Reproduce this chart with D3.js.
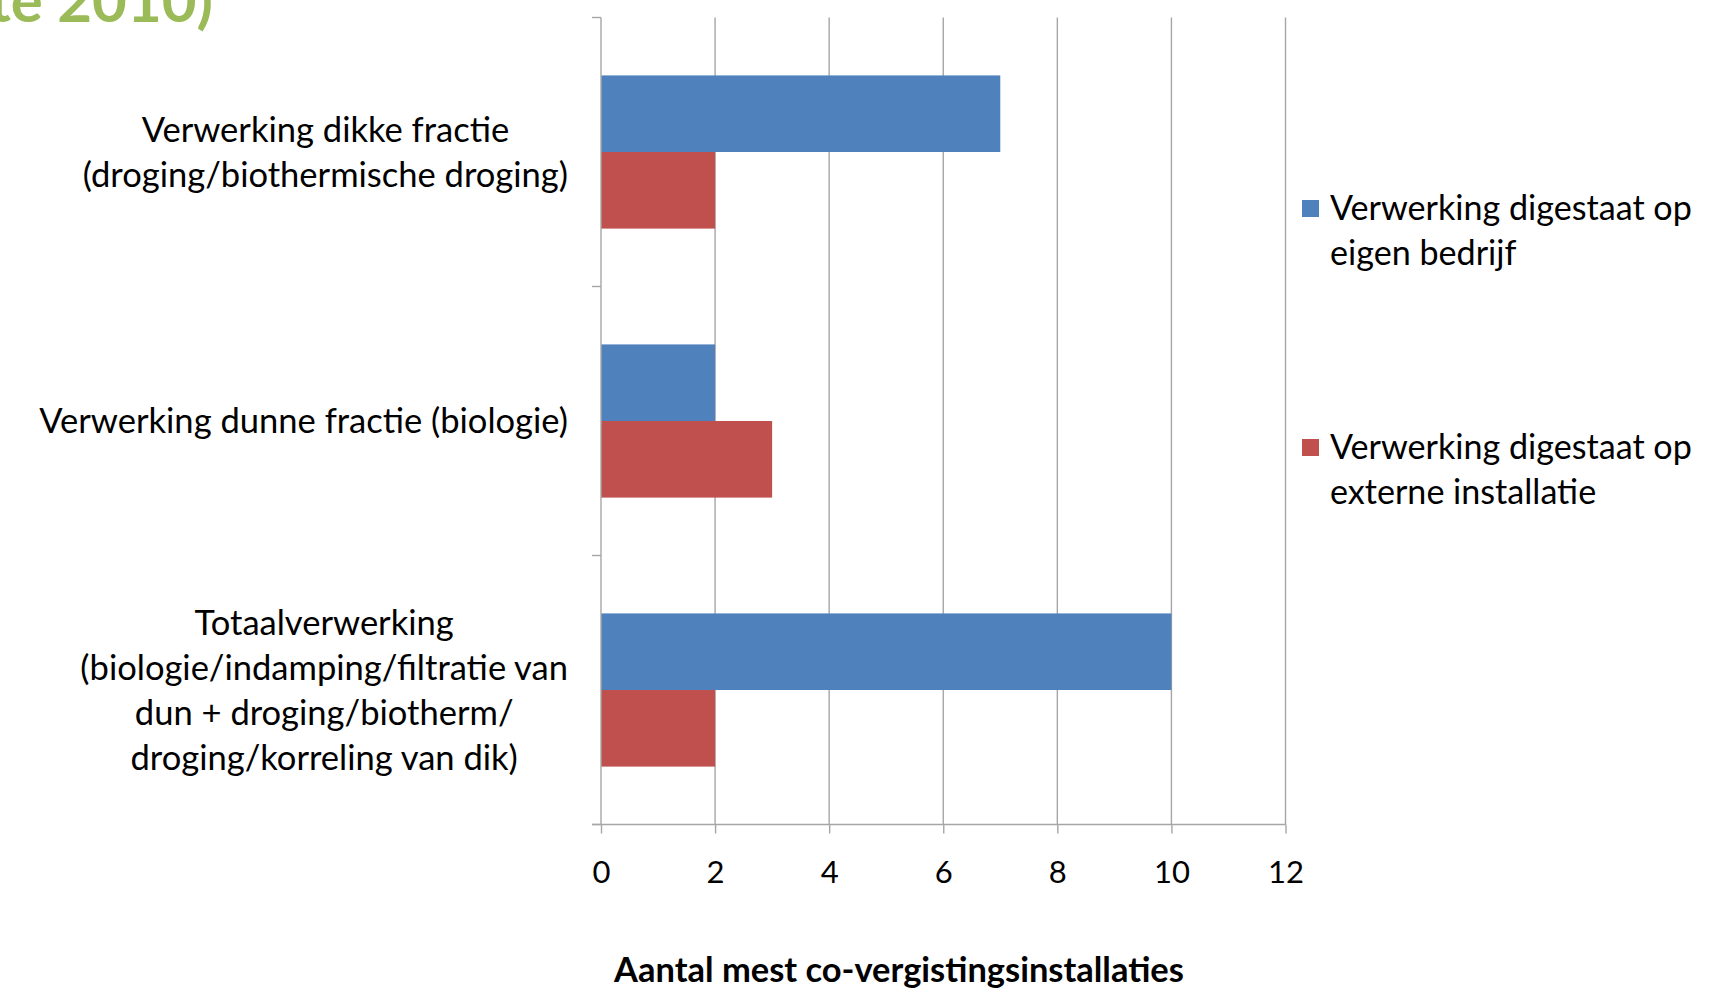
<!DOCTYPE html>
<html><head><meta charset="utf-8">
<script src="https://cdn.jsdelivr.net/npm/d3@7"></script>
<style>html,body{margin:0;padding:0;background:#fff;overflow:hidden}</style>
</head><body>
<svg id="c" width="1717" height="992"></svg>
<script>
const categories = [
  ["Verwerking dikke fractie", "(droging/biothermische droging)"],
  ["Verwerking dunne fractie (biologie)"],
  ["Totaalverwerking", "(biologie/indamping/filtratie van", "dun + droging/biotherm/", "droging/korreling van dik)"]
];
const categoryKeys = categories.map(c => c.join(" "));
const seriesNames = [
  ["Verwerking digestaat op", "eigen bedrijf"],
  ["Verwerking digestaat op", "externe installatie"]
];
const seriesKeys = ["eigen", "extern"];
const eigenValues = [7, 2, 10];
const externValues = [2, 3, 2];
const xTicks = [0, 2, 4, 6, 8, 10, 12];
const xTitle = "Aantal mest co-vergistingsinstallaties";
const headerFragment = "te 2010)";

const colors = {eigen: "#4F81BD", extern: "#C0504D"};
const FONT = "Lato, 'Open Sans', sans-serif";
const svg = d3.select("#c");
const DY = 3.5;

function fitSize(text, target, weight) {
  const t = svg.append("text").attr("font-family", FONT).attr("font-size", 40)
    .attr("font-weight", weight || "normal").text(text);
  const w = t.node().getComputedTextLength();
  t.remove();
  return 40 * target / w;
}
const labelSize = fitSize("Verwerking dunne fractie (biologie)", 529);
const legendSize = fitSize("Verwerking digestaat op", 362);
const titleSize = fitSize(xTitle, 570, "bold");
const tickSize = fitSize("10", 36);

const x = d3.scaleLinear().domain([0, 12]).range([601, 1285.5]);
const y = d3.scaleBand().domain(categoryKeys).range([17.5, 824.5]).padding(0);
const ys = d3.scaleBand().domain(seriesKeys).range([0, y.bandwidth()]).paddingInner(0).paddingOuter(0.756);

const gridColor = "#A6A6A6";

// gridlines
svg.append("g").selectAll("line").data(xTicks.filter(d => d > 0)).join("line")
  .attr("x1", d => x(d)).attr("x2", d => x(d))
  .attr("y1", 17.5).attr("y2", 824.5)
  .attr("stroke", gridColor).attr("stroke-width", 1.4);

// bars
const data = [];
categoryKeys.forEach((k, i) => {
  data.push({cat: k, s: "eigen", v: eigenValues[i]});
  data.push({cat: k, s: "extern", v: externValues[i]});
});
svg.append("g").selectAll("rect").data(data).join("rect")
  .attr("x", x(0)).attr("y", d => y(d.cat) + ys(d.s))
  .attr("width", d => x(d.v) - x(0)).attr("height", ys.bandwidth())
  .attr("fill", d => colors[d.s]);

// x axis
const xAxis = svg.append("g").attr("transform", "translate(0,824.5)")
  .call(d3.axisBottom(x).tickValues(xTicks).tickSize(9).tickPadding(22).tickFormat(d3.format("d")));
xAxis.select(".domain").remove();
xAxis.append("line").attr("x1", 592).attr("x2", x(12)).attr("y1", 0).attr("y2", 0)
  .attr("stroke", gridColor).attr("stroke-width", 1.4);
xAxis.selectAll(".tick line").attr("stroke", gridColor).attr("stroke-width", 1.4);
xAxis.selectAll(".tick text").attr("font-family", FONT).attr("font-size", tickSize)
  .attr("fill", "#000").attr("dy", null).attr("dominant-baseline", "middle")
  .attr("y", 47 + DY);

// y axis line + ticks at category boundaries
const yg = svg.append("g");
yg.append("line").attr("x1", x(0)).attr("x2", x(0)).attr("y1", 17.5).attr("y2", 824.5)
  .attr("stroke", gridColor).attr("stroke-width", 1.4);
const bounds = categoryKeys.map(k => y(k)).concat([y.range()[1]]);
yg.selectAll("line.t").data(bounds).join("line").attr("class", "t")
  .attr("x1", 592).attr("x2", x(0)).attr("y1", d => d).attr("y2", d => d)
  .attr("stroke", gridColor).attr("stroke-width", 1.4);

// category labels: block right-aligned, lines centred inside block
const lineH = 45;
const rightEdge = 568;
categories.forEach((lines, i) => {
  const g = svg.append("g");
  const texts = lines.map(l => g.append("text").attr("font-family", FONT)
    .attr("font-size", labelSize).attr("fill", "#000").text(l));
  const maxW = d3.max(texts, t => t.node().getComputedTextLength());
  const cx = rightEdge - maxW / 2;
  const cy = y(categoryKeys[i]) + y.bandwidth() / 2;
  texts.forEach((t, j) => {
    t.attr("x", cx).attr("text-anchor", "middle").attr("dominant-baseline", "middle")
      .attr("y", cy + DY + (j - (lines.length - 1) / 2) * lineH);
  });
});

// legend
const legendY = [208, 447];
seriesKeys.forEach((s, i) => {
  const g = svg.append("g");
  g.append("rect").attr("x", 1302).attr("y", legendY[i] - 8).attr("width", 17).attr("height", 17)
    .attr("fill", colors[s]);
  seriesNames[i].forEach((l, j) => {
    g.append("text").attr("x", 1330).attr("y", legendY[i] + DY + j * 45)
      .attr("dominant-baseline", "middle").attr("font-family", FONT)
      .attr("font-size", legendSize).attr("fill", "#000").text(l);
  });
});

// axis title
svg.append("text").attr("x", 899).attr("y", 970 + DY).attr("text-anchor", "middle")
  .attr("dominant-baseline", "middle").attr("font-family", FONT).attr("font-weight", "bold")
  .attr("font-size", titleSize).attr("fill", "#000").text(xTitle);

// cropped header fragment
svg.append("text").attr("x", 213).attr("y", 22).attr("text-anchor", "end")
  .attr("font-family", FONT).attr("font-weight", "bold").attr("font-size", 60)
  .attr("fill", "#9BBB59").text(headerFragment);
</script>
</body></html>
